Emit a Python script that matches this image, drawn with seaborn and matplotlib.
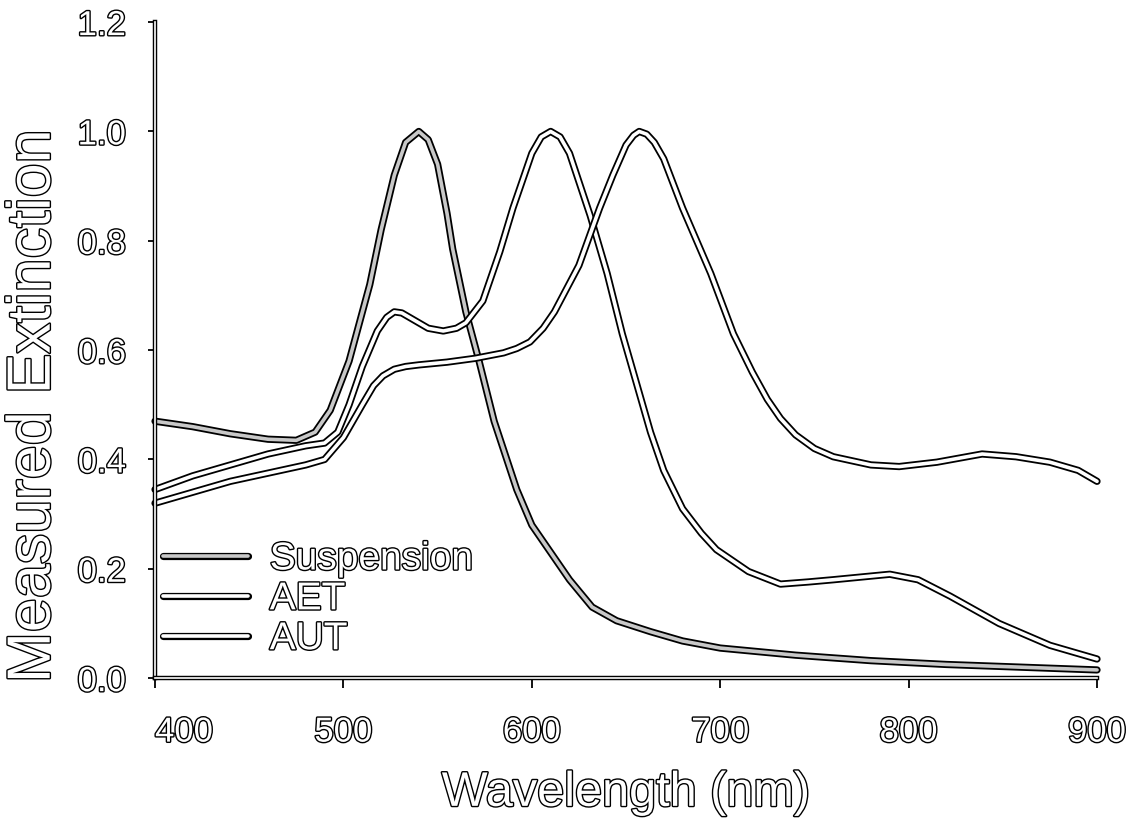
import numpy as np
import pandas as pd
import matplotlib
matplotlib.use("Agg")
import matplotlib.pyplot as plt
import matplotlib.patheffects as pe
import seaborn as sns

# ---- data ----
wl_sus = [400, 420, 440, 460, 475, 485, 493, 503, 514, 520, 527, 533, 540, 545, 550, 555, 558,
          565, 572, 580, 592, 600, 610, 620, 632, 645, 663, 680, 700, 740, 780, 820, 860, 900]
sus = [0.47, 0.46, 0.447, 0.437, 0.435, 0.45, 0.49, 0.58, 0.72, 0.82, 0.92, 0.98, 1.0, 0.985, 0.94,
       0.85, 0.785, 0.67, 0.58, 0.47, 0.345, 0.28, 0.23, 0.18, 0.13, 0.105, 0.085, 0.068, 0.055,
       0.042, 0.032, 0.025, 0.02, 0.015]

wl_aet = [400, 420, 440, 460, 480, 490, 497, 503, 510, 518, 523, 527, 531, 535, 545, 553, 560,
          565, 574, 583, 590, 600, 605, 610, 615, 620, 631, 640, 648, 653, 658, 663, 670, 680,
          690, 698, 715, 732, 747, 760, 775, 790, 805, 822, 848, 875, 900]
aet = [0.345, 0.37, 0.39, 0.41, 0.425, 0.43, 0.45, 0.50, 0.57, 0.635, 0.66, 0.67, 0.668, 0.66,
       0.64, 0.635, 0.64, 0.65, 0.69, 0.78, 0.86, 0.96, 0.99, 1.0, 0.99, 0.96, 0.846, 0.74, 0.63,
       0.57, 0.51, 0.45, 0.38, 0.31, 0.265, 0.235, 0.195, 0.172, 0.176, 0.18, 0.185, 0.19, 0.18,
       0.15, 0.10, 0.06, 0.035]

wl_aut = [400, 420, 440, 460, 480, 490, 500, 510, 516, 521, 527, 533, 540, 555, 570, 585, 592,
          599, 606, 612, 625, 636, 643, 650, 654, 657, 661, 665, 670, 680, 695, 707, 717, 725, 732,
          740, 750, 760, 780, 795, 815, 839, 857, 875, 890, 900]
aut = [0.32, 0.34, 0.36, 0.375, 0.39, 0.40, 0.44, 0.50, 0.535, 0.553, 0.565, 0.57, 0.573, 0.578,
       0.585, 0.595, 0.603, 0.615, 0.64, 0.67, 0.755, 0.86, 0.92, 0.975, 0.993, 1.0, 0.995, 0.98,
       0.95, 0.86, 0.74, 0.63, 0.56, 0.51, 0.475, 0.445, 0.42, 0.405, 0.39, 0.387, 0.395, 0.41,
       0.405, 0.395, 0.38, 0.36]

series_names = ["Suspension", "AET", "AUT"]
x_ticks = [400, 500, 600, 700, 800, 900]
y_ticks = [0.0, 0.2, 0.4, 0.6, 0.8, 1.0, 1.2]

df = pd.concat([
    pd.DataFrame({"Wavelength": wl_sus, "Extinction": sus, "Series": "Suspension"}),
    pd.DataFrame({"Wavelength": wl_aet, "Extinction": aet, "Series": "AET"}),
    pd.DataFrame({"Wavelength": wl_aut, "Extinction": aut, "Series": "AUT"}),
], ignore_index=True)

sns.set_theme(style="white")
plt.rcParams["font.family"] = ["Liberation Sans", "DejaVu Sans"]

fig = plt.figure(figsize=(11.34, 8.19), dpi=100)
ax = fig.add_axes([0.1367, 0.172, 0.8307, 0.801])

inner = {"Suspension": "#c8c8c8", "AET": "white", "AUT": "white"}
for name in series_names:
    sub = df[df["Series"] == name]
    sns.lineplot(data=sub, x="Wavelength", y="Extinction", ax=ax, color=inner[name],
                 linewidth=2.6, label=name, sort=False, estimator=None,
                 path_effects=[pe.Stroke(linewidth=5.2, foreground="black"), pe.Normal()],
                 solid_capstyle="round", solid_joinstyle="round", clip_on=False)

ax.set_xlim(400, 900)
ax.set_ylim(0, 1.2)
ax.set_xticks(x_ticks)
ax.set_yticks(y_ticks)
ax.set_xticklabels([f"{v:d}" for v in x_ticks])
ax.set_yticklabels([f"{v:.1f}" for v in y_ticks])

for side in ["top", "right"]:
    ax.spines[side].set_visible(False)
for side in ["left", "bottom"]:
    sp = ax.spines[side]
    sp.set_linewidth(1.2)
    sp.set_color("white")
    sp.set_path_effects([pe.Stroke(linewidth=3.2, foreground="black"), pe.Normal()])

ax.tick_params(axis="both", which="major", direction="out", color="black", width=1.3,
               bottom=True, left=True)
ax.tick_params(axis="y", length=5, pad=16, labelsize=25)
ax.tick_params(axis="x", length=7, pad=20, labelsize=25)

hollow = [pe.withStroke(linewidth=2.0, foreground="black")]
for lab in ax.get_xticklabels() + ax.get_yticklabels():
    lab.set_color("white")
    lab.set_path_effects(hollow)
ax.get_xticklabels()[0].set_horizontalalignment("left")

ax.set_xlabel("Wavelength (nm)", fontsize=35, color="white", labelpad=16, path_effects=hollow)
ax.set_ylabel("Measured Extinction", fontsize=44, color="white", path_effects=hollow)
ax.yaxis.set_label_coords(-0.098, 0.415)

leg = ax.legend(loc="lower left", bbox_to_anchor=(0.0, 0.02), frameon=False, fontsize=28,
                handlelength=2.2, handletextpad=0.55, labelspacing=0.1, borderpad=0.2,
                borderaxespad=0.0)
for t in leg.get_texts():
    t.set_color("white")
    t.set_path_effects(hollow)

fig.savefig("out.png", dpi=100, facecolor="white")
